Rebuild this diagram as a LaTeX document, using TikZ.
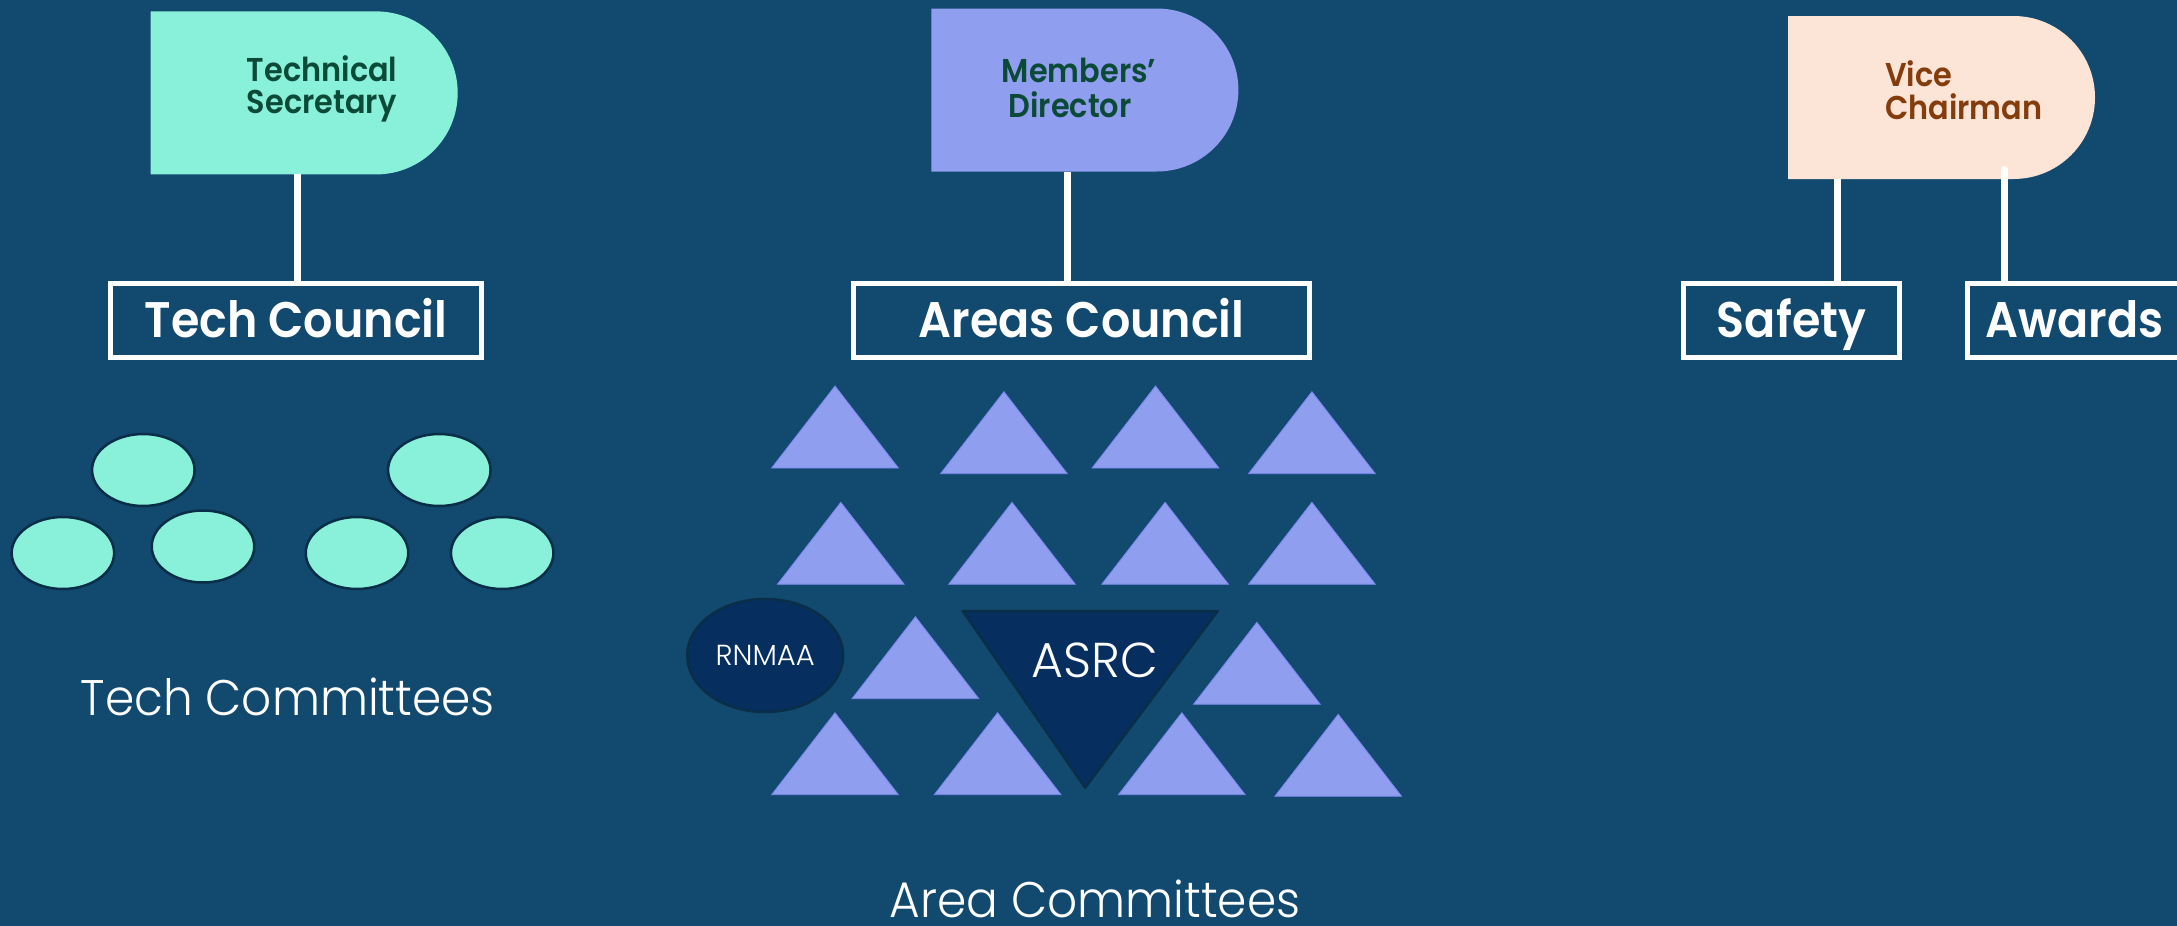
\documentclass[tikz,border=0pt]{standalone}
\usepackage{fontspec}
\setmainfont{Poppins}
\newfontfamily\headfont{Poppins SemiBold}[FakeStretch=0.92]
\newfontfamily\lightfont{Poppins Light}[FakeStretch=0.94]
\newfontfamily\lightwide{Poppins Light}
\usetikzlibrary{shapes.misc,shapes.geometric}

\definecolor{bg}{HTML}{12496F}
\definecolor{mint}{HTML}{89F0DA}
\definecolor{peri}{HTML}{8F9EEE}
\definecolor{peach}{HTML}{FCE4D6}
\definecolor{navy}{HTML}{062E5F}
\definecolor{darkline}{HTML}{0A2E48}
\definecolor{dkgreen}{HTML}{0C4A38}
\definecolor{brown}{HTML}{843C0C}

\begin{document}
\begin{tikzpicture}[x=1pt,y=-1pt,
  headshape/.style={rounded rectangle, rounded rectangle left arc=none,
    minimum width=307pt, minimum height=163pt, inner sep=0pt, draw=none},
  headtext/.style={font=\headfont\fontsize{33}{33}\selectfont, inner sep=0pt},
  unitbox/.style={draw=white, line width=5pt, minimum height=74pt, inner sep=0pt,
    text=white, font=\headfont\fontsize{50}{50}\selectfont,
    text height=35pt, text depth=0pt},
  link/.style={draw=white, line width=7pt},
  techcomm/.style={ellipse, fill=mint, draw=darkline, line width=2.5pt,
    minimum width=102.5pt, minimum height=72pt, inner sep=0pt},
  areatri/.style={fill=peri, draw=peri!85!blue, line width=0.8pt},
  caption/.style={anchor=base, text=white, inner sep=0pt,
    font=\lightfont\fontsize{50}{50}\selectfont}
]
% canvas
\fill[bg] (0,0) rectangle (2177,926);
\useasboundingbox (0,0) rectangle (2177,926);
\clip (0,0) rectangle (2177,926);

% heads
\node[headshape, fill=mint]  (ts) at (304.2,92.9) {};
\node[headshape, fill=peri]  (md) at (1084.9,90) {};
\node[headshape, fill=peach] (vc) at (1941.5,97.5) {};

\node[headtext, text=dkgreen, anchor=base west] (ts1) at (246.7,81)  {Technical};
\node[headtext, text=dkgreen, anchor=base west] (ts2) at (246.7,113) {Secretary};
\node[headtext, text=dkgreen, anchor=base] (md1) at (1079,82)  {Members’};
\node[headtext, text=dkgreen, anchor=base] (md2) at (1070,117) {Director};
\node[headtext, text=brown, anchor=base west] (vc1) at (1885,86)  {Vice};
\node[headtext, text=brown, anchor=base west] (vc2) at (1885,119) {Chairman};

% councils and units
\node[unitbox, minimum width=371pt] (tc) at (296,320)    {Tech Council};
\node[unitbox, minimum width=456pt] (ac) at (1081.5,320) {Areas Council};
\node[unitbox, minimum width=216pt] (sf) at (1791.5,320) {Safety};
\node[unitbox, minimum width=214pt] (aw) at (2074.5,320) {Awards};

% reporting lines
\coordinate (ts-foot) at (297,174);
\coordinate (md-foot) at (1067,172);
\coordinate (vc-foot1) at (1837,179);
\coordinate (vc-foot2) at (2004,169.5);
\draw[link] (ts-foot) -- (ts-foot |- tc.north);
\draw[link] (md-foot) -- (md-foot |- ac.north);
\draw[link] (vc-foot1) -- (vc-foot1 |- sf.north);
\draw[link, line cap=round] (vc-foot2) -- (vc-foot2 |- aw.north);

% technical committees
\node[techcomm] (tcm1) at (143.3,470) {};
\node[techcomm] (tcm2) at (62.9,553) {};
\node[techcomm] (tcm3) at (203,546.5) {};
\node[techcomm] (tcm4) at (439.3,470) {};
\node[techcomm] (tcm5) at (357,553) {};
\node[techcomm] (tcm6) at (502.2,553) {};
\node[caption] (tcc) at (287.7,715) {Tech Committees};

% area committees
\foreach \ax/\ay in {835/386, 1003.9/391.7, 1155.5/386, 1311.9/391.7,
                     840.8/502.3, 1012/502.3, 1165.1/502.3, 1311.9/502.3,
                     915.4/616.7, 1256.9/622.3,
                     835/712.7, 997.6/712.7, 1181.8/712.7, 1338.2/714.3}
  \filldraw[areatri] (\ax,\ay) -- ++(-63.4,82) -- ++(126.8,0) -- cycle;

\filldraw[fill=navy, draw=darkline, line width=2.5pt, line join=round]
  (962.7,611) -- (1217.7,611) -- (1085.2,787.7) -- cycle;
\node[anchor=base, text=white, inner sep=0pt,
  font=\lightwide\fontsize{49}{49}\selectfont] (asrc) at (1095.2,677) {ASRC};

\node[ellipse, fill=navy, draw=darkline, line width=2.5pt,
  minimum width=156pt, minimum height=113pt, inner sep=0pt, text=white,
  font=\lightwide\fontsize{29}{29}\selectfont, text height=20pt, text depth=0pt]
  (rnmaa) at (765.2,655.5) {RNMAA};

\node[caption] (acc) at (1095,917.7) {Area Committees};
\end{tikzpicture}
\end{document}
